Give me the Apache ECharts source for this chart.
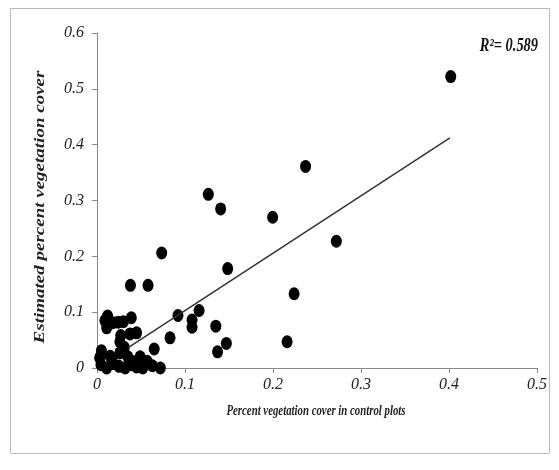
<!DOCTYPE html>
<html>
<head>
<meta charset="utf-8">
<script src="https://cdn.jsdelivr.net/npm/echarts@6/dist/echarts.min.js"></script>
<style>
  html, body { margin: 0; padding: 0; background: #fff; }
  #main { width: 559px; height: 470px; }
</style>
</head>
<body>
<div id="main"></div>
<script>
// percent vegetation cover in control plots (x)
var controlCover = [
  0.402, 0.237, 0.1265, 0.1405, 0.1996, 0.272, 0.0735, 0.1485, 0.224, 0.038,
  0.058, 0.116, 0.092, 0.108, 0.108, 0.135, 0.147, 0.137, 0.216, 0.083,
  0.065, 0.072,
  0.009, 0.011, 0.012, 0.018, 0.024, 0.030, 0.039, 0.0375, 0.045, 0.027,
  0.026, 0.031, 0.005, 0.026, 0.015, 0.017, 0.035, 0.049, 0.057, 0.0045,
  0.011, 0.018, 0.025, 0.032, 0.039, 0.045, 0.052, 0.063, 0.003, 0.040
];
// estimated percent vegetation cover (y)
var estimatedCover = [
  0.522, 0.361, 0.311, 0.285, 0.270, 0.227, 0.206, 0.178, 0.133, 0.148,
  0.148, 0.103, 0.094, 0.086, 0.073, 0.075, 0.044, 0.029, 0.047, 0.054,
  0.034, 0.0,
  0.085, 0.072, 0.093, 0.081, 0.082, 0.083, 0.090, 0.061, 0.063, 0.058,
  0.047, 0.037, 0.031, 0.027, 0.021, 0.016, 0.020, 0.020, 0.012, 0.006,
  0.0, 0.008, 0.003, 0.0, 0.006, 0.002, 0.0, 0.004, 0.018, 0.012
];
// trend line end points
var trendX = [0.035, 0.401];
var trendY = [0.036, 0.412];
var r2Text = "R\u00b2= 0.589";

var points = controlCover.map(function (x, i) { return [x, estimatedCover[i]]; });
var trend = trendX.map(function (x, i) { return [x, trendY[i]]; });

var serif = "'Liberation Serif', 'Times New Roman', serif";
var axisLabelStyle = { fontFamily: serif, fontStyle: "italic", fontSize: 16, color: "#222" };

var chart = echarts.init(document.getElementById("main"));
chart.setOption({
  animation: false,
  backgroundColor: "#fff",
  grid: { left: 97, right: 22, top: 33, bottom: 102 },
  xAxis: {
    type: "value",
    min: 0, max: 0.5, interval: 0.1,
    axisLine: { lineStyle: { color: "#888", width: 1 } },
    axisTick: { show: true, length: 5, lineStyle: { color: "#888" } },
    splitLine: { show: false },
    axisLabel: Object.assign({ margin: 9 }, axisLabelStyle)
  },
  yAxis: {
    type: "value",
    min: 0, max: 0.6, interval: 0.1,
    axisLine: { show: true, lineStyle: { color: "#888", width: 1 } },
    axisTick: { show: true, length: 5, lineStyle: { color: "#888" } },
    splitLine: { show: false },
    axisLabel: Object.assign({ margin: 13 }, axisLabelStyle)
  },
  graphic: [
    {
      type: "rect", silent: true,
      shape: { x: 10.5, y: 8.5, width: 539, height: 445 },
      style: { fill: "none", stroke: "#b8b8b8", lineWidth: 1 }
    },
    {
      type: "text", x: 316, y: 411, scaleX: 0.72,
      style: {
        text: "Percent vegetation cover in control plots",
        font: "italic bold 15px " + serif,
        fill: "#222", align: "center", verticalAlign: "middle"
      }
    },
    {
      type: "text", x: 40, y: 207, rotation: Math.PI / 2, scaleY: 0.8,
      style: {
        text: "Estimated percent vegetation cover",
        font: "italic bold 19px " + serif,
        fill: "#222", align: "center", verticalAlign: "middle"
      }
    },
    {
      type: "text", x: 538, y: 46, scaleX: 0.8,
      style: {
        text: r2Text,
        font: "italic bold 18px " + serif,
        fill: "#111", align: "right", verticalAlign: "middle"
      }
    }
  ],
  series: [
    {
      type: "line",
      data: trend,
      showSymbol: false,
      symbol: "none",
      lineStyle: { color: "#333", width: 1.5 },
      z: 3
    },
    {
      type: "scatter",
      data: points,
      symbol: "circle",
      symbolSize: [11, 13],
      itemStyle: { color: "#000", opacity: 1 },
      z: 2
    }
  ]
});
</script>
</body>
</html>
